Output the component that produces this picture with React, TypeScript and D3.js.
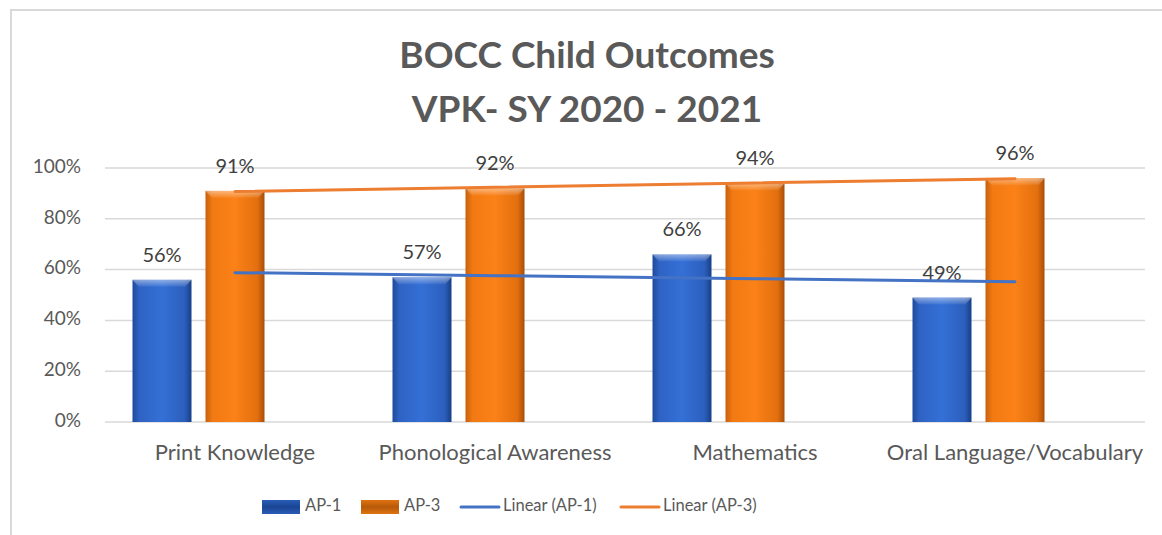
import React from 'react';
import * as d3 from 'd3';

const categories = ['Print Knowledge', 'Phonological Awareness', 'Mathematics', 'Oral Language/Vocabulary'];
const ap1 = [0.56, 0.57, 0.66, 0.49];
const ap3 = [0.91, 0.92, 0.94, 0.96];
const yTicks = [0, 0.2, 0.4, 0.6, 0.8, 1];
const titleLines = ['BOCC Child Outcomes', 'VPK- SY 2020 - 2021'];

// least squares fit over category index 1..n, like the spreadsheet's linear trendline
function linearFit(values: number[]) {
  const xs = values.map((_, i) => i + 1);
  const mx = d3.mean(xs) as number;
  const my = d3.mean(values) as number;
  const slope =
    d3.sum(xs, (x, i) => (x - mx) * (values[i] - my)) / d3.sum(xs, (x) => (x - mx) ** 2);
  return (x: number) => my + slope * (x - mx);
}

function App() {
  const width = 1162;
  const height = 535;
  const font = 'Lato, "Open Sans", sans-serif';

  const xScale = d3.scaleBand<string>().domain(categories).range([105, 1145]);
  const yScale = d3.scaleLinear().domain([0, 1]).range([422, 168]);
  const pct = d3.format('.0%');

  const barW = 59;
  const gap = 14;
  const center = (c: string) => (xScale(c) as number) + xScale.bandwidth() / 2;

  const series = [
    { name: 'AP-1', values: ap1, offset: -gap - barW * 1.5, grad: 'gBlue', line: '#4472C4' },
    { name: 'AP-3', values: ap3, offset: -barW / 2, grad: 'gOrange', line: '#ED7D31' },
  ];

  const line = d3
    .line<number>()
    .x((_, i) => center(categories[i]))
    .y((v) => yScale(v));

  const legend = [
    { kind: 'bar', grad: 'gBlueL', label: 'AP-1', x: 262 },
    { kind: 'bar', grad: 'gOrangeL', label: 'AP-3', x: 361 },
    { kind: 'line', color: '#4472C4', label: 'Linear (AP-1)', x: 460 },
    { kind: 'line', color: '#ED7D31', label: 'Linear (AP-3)', x: 620 },
  ];

  return (
    <svg
      width={width}
      height={height}
      style={{ position: 'fixed', left: 0, top: 0, background: '#fff' }}
      fontFamily={font}
    >
      <defs>
        <linearGradient id="gBlue" x1="0" x2="1" y1="0" y2="0">
          <stop offset="0" stopColor="#1d4a9c" />
          <stop offset="0.12" stopColor="#2f63c4" />
          <stop offset="0.5" stopColor="#3470d6" />
          <stop offset="0.88" stopColor="#2c5fbd" />
          <stop offset="1" stopColor="#183f86" />
        </linearGradient>
        <linearGradient id="gOrange" x1="0" x2="1" y1="0" y2="0">
          <stop offset="0" stopColor="#c8600e" />
          <stop offset="0.12" stopColor="#f27a12" />
          <stop offset="0.5" stopColor="#fb8118" />
          <stop offset="0.88" stopColor="#e36f0e" />
          <stop offset="1" stopColor="#a84d08" />
        </linearGradient>
        <linearGradient id="gBlueL" x1="0" x2="0" y1="0" y2="1">
          <stop offset="0" stopColor="#2a5cb8" />
          <stop offset="0.5" stopColor="#1a4593" />
          <stop offset="1" stopColor="#2a5cb8" />
        </linearGradient>
        <linearGradient id="gOrangeL" x1="0" x2="0" y1="0" y2="1">
          <stop offset="0" stopColor="#e0720f" />
          <stop offset="0.5" stopColor="#b65a0a" />
          <stop offset="1" stopColor="#e0720f" />
        </linearGradient>
        <linearGradient id="bevel" x1="0" x2="0" y1="0" y2="1">
          <stop offset="0" stopColor="#ffffff" stopOpacity="0.45" />
          <stop offset="1" stopColor="#ffffff" stopOpacity="0.05" />
        </linearGradient>
      </defs>

      <path d={`M 11 535 V 10 H ${width}`} fill="none" stroke="#d9d9d9" strokeWidth="2" />

      {titleLines.map((t, i) => (
        <text
          key={t}
          x={587}
          y={68 + i * 54}
          textAnchor="middle"
          fontSize="37"
          fontWeight="bold"
          fill="#595959"
        >
          {t}
        </text>
      ))}

      <g className="grid">
        {yTicks.map((t) => (
          <g key={t} transform={`translate(0 ${yScale(t)})`}>
            <path d={`M 105 0 H 1145`} stroke="#d9d9d9" strokeWidth="1.5" />
            <text x={81} dominantBaseline="middle" textAnchor="end" fontSize="19" fill="#595959">
              {pct(t)}
            </text>
          </g>
        ))}
      </g>

      <g className="bars">
        {series.map((s) =>
          s.values.map((v, i) => {
            const x = center(categories[i]) + s.offset;
            const y = yScale(v);
            const h = yScale(0) - y;
            return (
              <g key={s.name + i}>
                <rect x={x} y={y} width={barW} height={h} fill={`url(#${s.grad})`} />
                <path
                  d={`M ${x} ${y} H ${x + barW} L ${x + barW - 6} ${y + 7} H ${x + 6} Z`}
                  fill="url(#bevel)"
                />
                <text
                  x={x + barW / 2}
                  y={y - 18}
                  textAnchor="middle"
                  fontSize="20"
                  fill="#404040"
                >
                  {pct(v)}
                </text>
              </g>
            );
          })
        )}
      </g>

      <g className="trends">
        {series.map((s) => {
          const fit = linearFit(s.values);
          const pts = s.values.map((_, i) => fit(i + 1));
          return (
            <path
              key={s.name}
              d={line(pts) as string}
              fill="none"
              stroke={s.line}
              strokeWidth="3"
              strokeLinecap="round"
            />
          );
        })}
      </g>

      <g className="x-axis">
        {categories.map((c) => (
          <text key={c} x={center(c)} y={460} textAnchor="middle" fontSize="22" fill="#595959">
            {c}
          </text>
        ))}
      </g>

      <g className="legend">
        {legend.map((l) => (
          <g key={l.label} transform={`translate(${l.x} 507)`}>
            {l.kind === 'bar' ? (
              <rect x={0} y={-7} width={38} height={14} fill={`url(#${l.grad})`} />
            ) : (
              <path d="M 1 0 H 39" stroke={l.color} strokeWidth="3" strokeLinecap="round" />
            )}
            <text x={43} dominantBaseline="middle" fontSize="16.5" fill="#595959">
              {l.label}
            </text>
          </g>
        ))}
      </g>
    </svg>
  );
}

export default App;
